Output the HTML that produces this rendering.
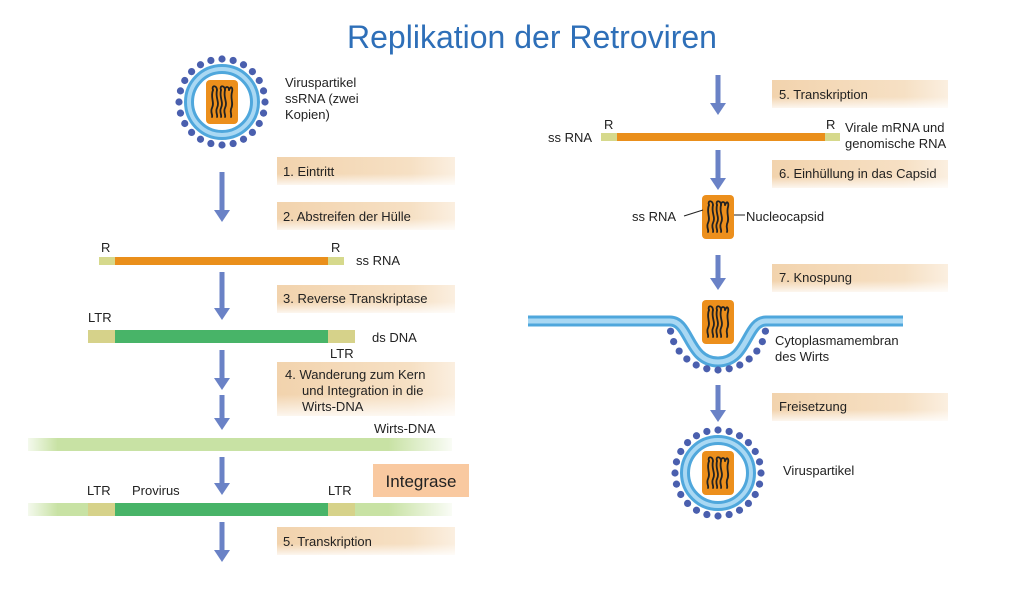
<!DOCTYPE html>
<html><head><meta charset="utf-8"><style>
html,body{margin:0;padding:0;background:#fff;}
svg{display:block;}
text{font-family:"Liberation Sans",sans-serif;fill:#222;font-size:13px;}
</style></head><body>
<svg id="s" width="1024" height="591" viewBox="0 0 1024 591" xmlns="http://www.w3.org/2000/svg">
<defs>
<linearGradient id="lab" x1="0" y1="0" x2="1" y2="0">
<stop offset="0" stop-color="#f2d3ad"/><stop offset="0.75" stop-color="#f6e0c4"/><stop offset="1" stop-color="#fbefe0"/>
</linearGradient>
<linearGradient id="labv" x1="0" y1="0" x2="0" y2="1">
<stop offset="0.6" stop-color="#fff" stop-opacity="0"/><stop offset="1" stop-color="#fff" stop-opacity="0.8"/>
</linearGradient>
<linearGradient id="wirts" x1="0" y1="0" x2="1" y2="0">
<stop offset="0" stop-color="#c8e2a4" stop-opacity="0.2"/><stop offset="0.07" stop-color="#c8e2a4"/><stop offset="0.85" stop-color="#c8e2a4"/><stop offset="1" stop-color="#c8e2a4" stop-opacity="0.1"/>
</linearGradient>
<g id="cap">
<rect x="-16" y="-22" width="32" height="44" rx="4" fill="#ec8f1c"/>
<g fill="none" stroke="#222" stroke-width="1.8" stroke-linecap="round">
<path d="M-9 -12 C-11 -17,-5 -17,-5 -12"/>
<path d="M-1 -12 C-3 -17,3 -17,3 -12"/>
<path d="M-9 -12 C-12 -4,-7 0,-10 6 C-12 10,-9 13,-10 15"/>
<path d="M-5 -12 C-7 -4,-2 0,-5 6 C-7 10,-4 13,-5 15"/>
<path d="M-1 -12 C-3 -4,2 0,-1 6 C-3 10,0 13,-1 15"/>
<path d="M3 -12 C1 -4,6 0,3 6 C1 10,4 13,3 15"/>
<path d="M7 -12 C9 -17,11 -14,10 -10 C8 -3,12 1,9 7 C8 11,10 13,9 15"/>
<path d="M3 -12 C3 -16,7 -16,7 -12"/>
</g>
</g>
</defs>

<text x="532" y="48" text-anchor="middle" style="font-size:32px;fill:#2e6fb8">Replikation der Retroviren</text>

<g id="labels"></g>

<!-- Left column -->
<g id="v1"></g>
<text x="285" y="87">Viruspartikel</text>
<text x="285" y="103">ssRNA (zwei</text>
<text x="285" y="119">Kopien)</text>

<text x="283" y="176">1. Eintritt</text>
<text x="283" y="221">2. Abstreifen der Hülle</text>

<rect x="99" y="257" width="16" height="8" fill="#d6d98c"/>
<rect x="115" y="257" width="213" height="8" fill="#ea8f1b"/>
<rect x="328" y="257" width="16" height="8" fill="#d6d98c"/>
<text x="101" y="252">R</text><text x="331" y="252">R</text>
<text x="356" y="265">ss RNA</text>

<text x="283" y="303">3. Reverse Transkriptase</text>
<text x="88" y="322">LTR</text>
<rect x="88" y="330" width="27" height="13" fill="#d6d28a"/>
<rect x="115" y="330" width="213" height="13" fill="#48b468"/>
<rect x="328" y="330" width="27" height="13" fill="#d6d28a"/>
<text x="372" y="342">ds DNA</text>
<text x="330" y="358">LTR</text>

<text x="285" y="379">4. Wanderung zum Kern</text>
<text x="302" y="395">und Integration in die</text>
<text x="302" y="411">Wirts-DNA</text>
<text x="374" y="433">Wirts-DNA</text>
<rect x="28" y="438" width="424" height="13" fill="url(#wirts)"/>

<rect x="373" y="464" width="96" height="33" fill="#f9c9a0"/>
<text x="421" y="487" text-anchor="middle" style="font-size:17px">Integrase</text>
<text x="87" y="495">LTR</text><text x="132" y="495">Provirus</text><text x="328" y="495">LTR</text>
<rect x="28" y="503" width="424" height="13" fill="url(#wirts)"/>
<rect x="88" y="503" width="27" height="13" fill="#d6d28a"/>
<rect x="115" y="503" width="213" height="13" fill="#48b468"/>
<rect x="328" y="503" width="27" height="13" fill="#d6d28a"/>
<text x="283" y="546">5. Transkription</text>

<!-- Right column -->
<text x="779" y="99">5. Transkription</text>
<text x="548" y="142">ss RNA</text>
<rect x="601" y="133" width="16" height="8" fill="#d6d98c"/>
<rect x="617" y="133" width="208" height="8" fill="#ea8f1b"/>
<rect x="825" y="133" width="15" height="8" fill="#d6d98c"/>
<text x="604" y="129">R</text><text x="826" y="129">R</text>
<text x="845" y="132">Virale mRNA und</text>
<text x="845" y="148">genomische RNA</text>
<text x="779" y="178">6. Einhüllung in das Capsid</text>
<use href="#cap" x="718" y="217"/>
<line x1="684" y1="216" x2="703" y2="210" stroke="#222"/>
<line x1="734" y1="215" x2="745" y2="215" stroke="#222"/>
<text x="632" y="221">ss RNA</text>
<text x="746" y="221">Nucleocapsid</text>
<text x="779" y="282">7. Knospung</text>

<path d="M528 321 H670 C690 321,688 362,718 362 C748 362,746 321,766 321 H903" fill="none" stroke="#4fa7dc" stroke-width="11"/>
<path d="M528 321 H670 C690 321,688 362,718 362 C748 362,746 321,766 321 H903" fill="none" stroke="#a9d8f3" stroke-width="5"/>
<g id="mdots"></g>
<use href="#cap" x="718" y="322"/>
<text x="775" y="345">Cytoplasmamembran</text>
<text x="775" y="361">des Wirts</text>
<text x="779" y="411">Freisetzung</text>
<g id="v2"></g>
<text x="783" y="475">Viruspartikel</text>

<g id="arrows"></g>
</svg>
<script>
var NS="http://www.w3.org/2000/svg";
function el(p,t,a){var e=document.createElementNS(NS,t);for(var k in a)e.setAttribute(k,a[k]);p.appendChild(e);return e;}
var L=document.getElementById('labels');
[[277,157,178,28],[277,202,178,28],[277,285,178,28],[277,362,178,54],[277,527,178,28],
 [772,80,176,28],[772,160,176,28],[772,264,176,28],[772,393,176,28]].forEach(function(b){
 el(L,'rect',{x:b[0],y:b[1],width:b[2],height:b[3],fill:'url(#lab)'});
 el(L,'rect',{x:b[0],y:b[1],width:b[2],height:b[3],fill:'url(#labv)'});
});
function virus(id,cx,cy){var g=document.getElementById(id);
 for(var i=0;i<24;i++){var a=i*Math.PI*2/24;el(g,'circle',{cx:cx+43*Math.cos(a),cy:cy+43*Math.sin(a),r:3.6,fill:'#4a5fae'});}
 el(g,'circle',{cx:cx,cy:cy,r:33,fill:'#fff',stroke:'#4fa7dc','stroke-width':10});
 el(g,'circle',{cx:cx,cy:cy,r:33,fill:'none',stroke:'#a9d8f3','stroke-width':4});
 el(g,'use',{href:'#cap',x:cx,y:cy});
}
virus('v1',222,102);virus('v2',718,473);
var M=document.getElementById('mdots');
for(var i=0;i<=12;i++){var a=Math.PI*(0.05+0.9*i/12);el(M,'circle',{cx:718-48*Math.cos(a),cy:330+46*Math.sin(a)-6,r:3.6,fill:'#4a5fae'});}
var A=document.getElementById('arrows');
[[222,172,222],[222,272,320],[222,350,390],[222,395,430],[222,457,495],[222,522,562],
 [718,75,115],[718,150,190],[718,255,290],[718,385,422]].forEach(function(r){
 var x=r[0],y1=r[1],y2=r[2];
 el(A,'rect',{x:x-2.5,y:y1,width:5,height:y2-y1-11,fill:'#6a82c6'});
 el(A,'polygon',{points:(x-8)+','+(y2-12)+' '+(x+8)+','+(y2-12)+' '+x+','+y2,fill:'#6a82c6'});
});
</script>
</body></html>
